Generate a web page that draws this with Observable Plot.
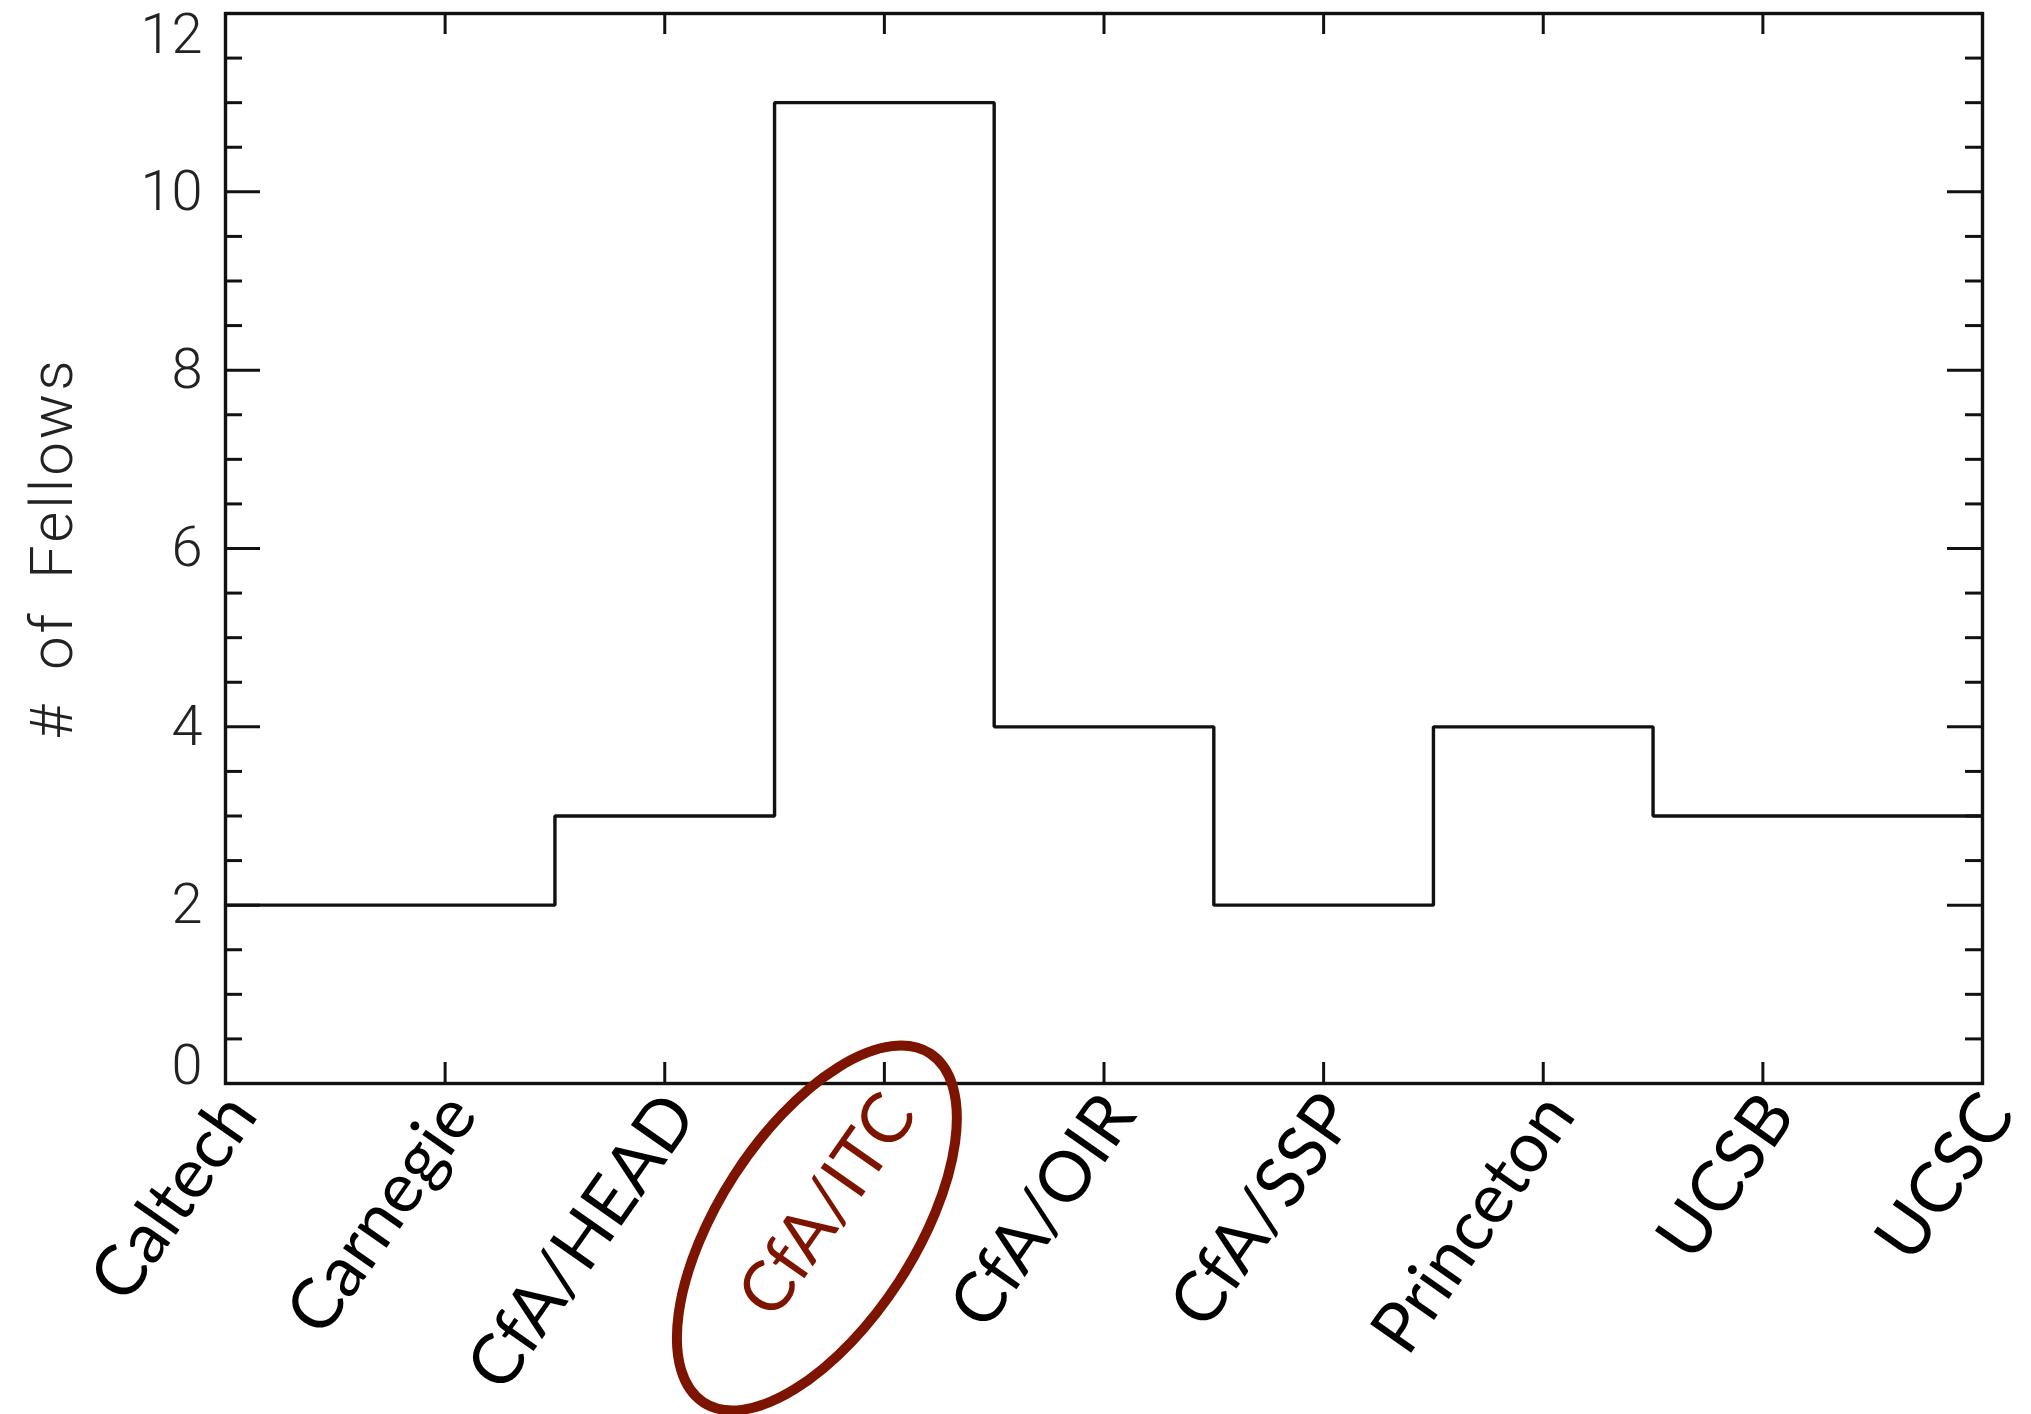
<!DOCTYPE html>
<html><head><meta charset="utf-8">
<script src="https://cdn.jsdelivr.net/npm/d3@7"></script>
<script src="https://cdn.jsdelivr.net/npm/@observablehq/plot@0.6"></script>
<style>html,body{margin:0;padding:0;background:#fff;overflow:hidden;}</style>
</head><body><div id="chart"></div>
<script>
const categories = ["Caltech", "Carnegie", "CfA/HEAD", "CfA/ITC", "CfA/OIR", "CfA/SSP", "Princeton", "UCSB", "UCSC"];
const fellows = [2, 2, 3, 11, 4, 2, 4, 3, 3];
const yMajorTicks = [0, 2, 4, 6, 8, 10, 12];
const yMinorTicks = [0.5, 1, 1.5, 2.5, 3, 3.5, 4.5, 5, 5.5, 6.5, 7, 7.5, 8.5, 9, 9.5, 10.5, 11, 11.5];
const yLabel = "# of Fellows";
const highlight = "CfA/ITC";

const W = 2031, H = 1414, mL = 225, mR = 49, mT = 13, mB = 331;
const fw = W - mL - mR, fh = H - mT - mB;
const data = categories.map((c, i) => ({i, c, v: fellows[i]}));
const ink = "#111";
const tickFont = {fontFamily: "Roboto", fontWeight: 300, fontSize: 56, fill: "#222"};
const catFont = {fontFamily: "Lato", fontSize: 70};
const catPos = {x: "i", text: "c", frameAnchor: "bottom", dx: 34, dy: 32, rotate: -55, textAnchor: "end"};

const plot = Plot.plot({
  width: W, height: H,
  marginLeft: mL, marginRight: mR, marginTop: mT, marginBottom: mB,
  style: {background: "white", overflow: "visible"},
  x: {type: "linear", domain: [0, categories.length - 1], axis: null},
  y: {domain: [0, 12], axis: null},
  marks: [
    Plot.tickY(yMajorTicks, {y: d => d, insetRight: fw - 35, stroke: ink, strokeWidth: 3}),
    Plot.tickY(yMajorTicks, {y: d => d, insetLeft: fw - 35, stroke: ink, strokeWidth: 3}),
    Plot.tickY(yMinorTicks, {y: d => d, insetRight: fw - 17, stroke: ink, strokeWidth: 3}),
    Plot.tickY(yMinorTicks, {y: d => d, insetLeft: fw - 17, stroke: ink, strokeWidth: 3}),
    Plot.tickX(data, {x: "i", insetBottom: fh - 21, stroke: ink, strokeWidth: 3}),
    Plot.tickX(data, {x: "i", insetTop: fh - 21, stroke: ink, strokeWidth: 3}),
    Plot.frame({stroke: ink, strokeWidth: 3.4}),
    Plot.line(data, {x: "i", y: "v", curve: "step", stroke: ink, strokeWidth: 3.4, strokeLinejoin: "miter"}),
    Plot.text(yMajorTicks.filter(t => t > 0 && t < 12), {y: d => d, text: d => String(d), frameAnchor: "left", dx: -23, textAnchor: "end", ...tickFont}),
    Plot.text([0], {y: d => d, text: d => String(d), frameAnchor: "left", dx: -23, textAnchor: "end", lineAnchor: "bottom", ...tickFont}),
    Plot.text([12], {y: d => d, text: d => String(d), frameAnchor: "left", dx: -23, textAnchor: "end", lineAnchor: "top", ...tickFont}),
    Plot.text([yLabel], {frameAnchor: "left", dx: -173, rotate: -90, textAnchor: "middle", className: "ylab", ...tickFont, fontSize: 60}),
    Plot.text(data.filter(d => d.c !== highlight), {...catPos, fill: "#000", ...catFont}),
    Plot.text(data.filter(d => d.c === highlight), {...catPos, fill: "#7d1400", ...catFont})
  ]
});

d3.select(plot).selectAll(".ylab text").style("letter-spacing", "3px").style("word-spacing", "14px");

// annotation ellipse around the highlighted category label
const xs = plot.scale("x");
const hx = xs.apply(categories.indexOf(highlight));
const cx = hx - 67, cy = mT + fh + 145;
d3.select(plot).append("ellipse")
  .attr("cx", cx).attr("cy", cy).attr("rx", 208).attr("ry", 98)
  .attr("transform", `rotate(-57 ${cx} ${cy})`)
  .attr("fill", "none").attr("stroke", "#7d1400").attr("stroke-width", 10);

document.getElementById("chart").appendChild(plot);
</script>
</body></html>
